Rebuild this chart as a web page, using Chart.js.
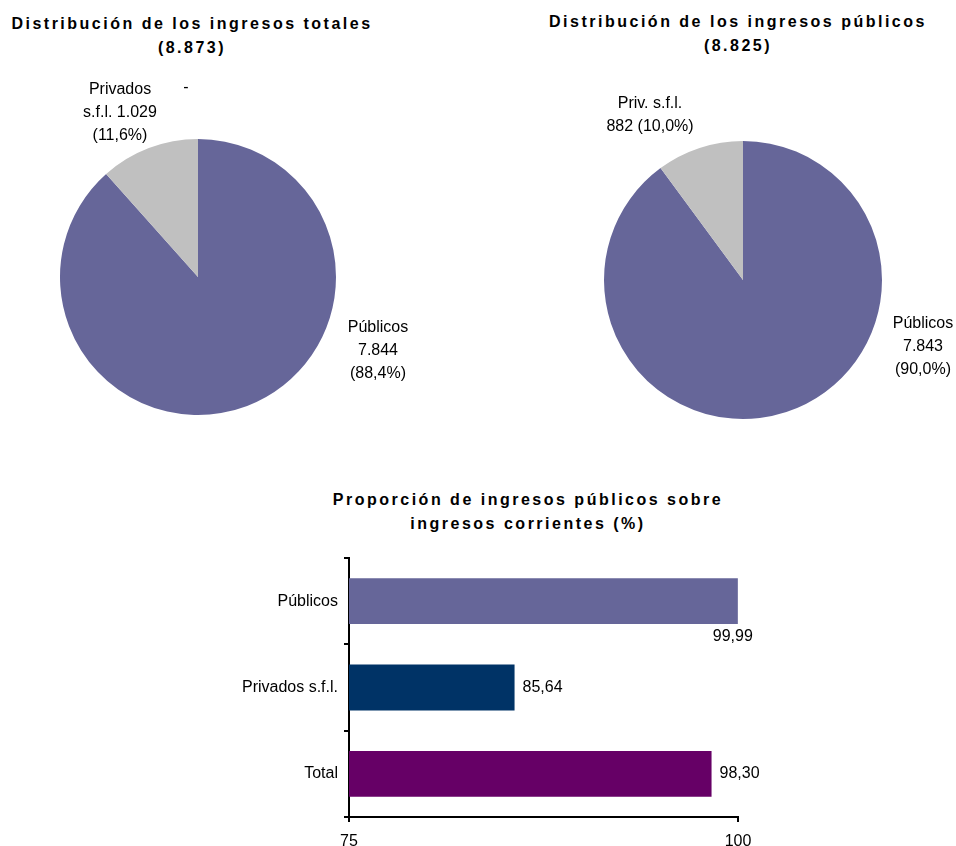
<!DOCTYPE html>
<html>
<head>
<meta charset="utf-8">
<script src="https://cdn.jsdelivr.net/npm/chart.js@4.4.1/dist/chart.umd.min.js"></script>
<style>
  body { margin: 0; background: #fff; font-family: "Liberation Sans", Arial, sans-serif; }
  #page { position: relative; width: 956px; height: 846px; overflow: hidden; }
  .title { position: absolute; text-align: center; font-weight: bold; font-size: 16px;
           letter-spacing: 2.5px; line-height: 24px; color: #000; white-space: nowrap; }
  .box { position: absolute; }
</style>
</head>
<body>
<div id="page">
  <div class="title" style="left:-8px; width:400px; top:12px;">Distribución de los ingresos totales<br>(8.873)</div>
  <div class="title" style="left:538px; width:400px; top:10px;">Distribución de los ingresos públicos<br>(8.825)</div>
  <div class="title" style="left:278px; width:500px; top:488px;">Proporción de ingresos públicos sobre<br>ingresos corrientes (%)</div>

  <div class="box" style="left:0; top:60px; width:470px; height:380px;"><canvas id="pieTotal"></canvas></div>
  <div class="box" style="left:480px; top:60px; width:476px; height:380px;"><canvas id="piePublic"></canvas></div>
  <div class="box" style="left:200px; top:540px; width:600px; height:306px;"><canvas id="barShare"></canvas></div>
</div>
<script>
// pie: distribución de los ingresos totales
const totalCategories = ['Públicos', 'Privados s.f.l.'];
const totalValues = [7844, 1029];
const totalLabelLines = [['Públicos', '7.844', '(88,4%)'], ['Privados', 's.f.l. 1.029', '(11,6%)']];

// pie: distribución de los ingresos públicos
const publicCategories = ['Públicos', 'Priv. s.f.l.'];
const publicValues = [7843, 882];
const publicLabelLines = [['Públicos', '7.843', '(90,0%)'], ['Priv. s.f.l.', '882 (10,0%)']];

// bars: proporción de ingresos públicos sobre ingresos corrientes
const barCategories = ['Públicos', 'Privados s.f.l.', 'Total'];
const barValues = [99.99, 85.64, 98.30];
const barValueLabels = ['99,99', '85,64', '98,30'];
const axisTicks = [75, 100];

const pieColors = ['#666699', '#C0C0C0'];
const barColors = ['#666699', '#003366', '#660066'];
const FONT = '"Liberation Sans", Arial, sans-serif';

Chart.defaults.font.family = FONT;
Chart.defaults.color = '#000';
Chart.defaults.animation = false;

// text blocks placed relative to the pie centre
const pieLabelPlugin = {
  id: 'pieLabels',
  afterDatasetsDraw(chart, args, opts) {
    const arc = chart.getDatasetMeta(0).data[0];
    if (!arc) return;
    const ctx = chart.ctx;
    ctx.save();
    ctx.font = '16px ' + FONT;
    ctx.fillStyle = '#000';
    ctx.textAlign = 'center';
    ctx.textBaseline = 'middle';
    opts.blocks.forEach((block) => {
      block.lines.forEach((line, i) => {
        ctx.fillText(line, arc.x + block.dx, arc.y + block.dy + i * 23);
      });
    });
    ctx.restore();
  }
};

function makePie(id, categories, values, padding, blocks) {
  return new Chart(document.getElementById(id), {
    type: 'pie',
    data: {
      labels: categories,
      datasets: [{ data: values, backgroundColor: pieColors, borderWidth: 0 }]
    },
    options: {
      responsive: true,
      maintainAspectRatio: false,
      layout: { padding },
      plugins: {
        legend: { display: false },
        tooltip: { enabled: false },
        pieLabels: { blocks }
      }
    },
    plugins: [pieLabelPlugin]
  });
}

makePie('pieTotal', totalCategories, totalValues,
  { left: 60, top: 79, right: 134, bottom: 25 },
  [
    { lines: totalLabelLines[0], dx: 180, dy: 51 },
    { lines: totalLabelLines[1], dx: -78, dy: -187 },
    { lines: ['-'], dx: -12, dy: -189 }
  ]);

makePie('piePublic', publicCategories, publicValues,
  { left: 124, top: 81, right: 74, bottom: 21 },
  [
    { lines: publicLabelLines[0], dx: 180, dy: 44 },
    { lines: publicLabelLines[1], dx: -93, dy: -176 }
  ]);

const barValuePlugin = {
  id: 'barValues',
  afterDatasetsDraw(chart) {
    const ctx = chart.ctx;
    ctx.save();
    ctx.font = '16px ' + FONT;
    ctx.fillStyle = '#000';
    chart.getDatasetMeta(0).data.forEach((bar, i) => {
      if (i === 0) {
        ctx.textAlign = 'center';
        ctx.textBaseline = 'middle';
        ctx.fillText(barValueLabels[i], bar.x - 5, bar.y + bar.height / 2 + 13);
      } else {
        ctx.textAlign = 'left';
        ctx.textBaseline = 'middle';
        ctx.fillText(barValueLabels[i], bar.x + 8, bar.y);
      }
    });
    ctx.restore();
  }
};

new Chart(document.getElementById('barShare'), {
  type: 'bar',
  data: {
    labels: barCategories,
    datasets: [{
      data: barValues,
      backgroundColor: barColors,
      borderWidth: 0,
      barPercentage: 0.53,
      categoryPercentage: 1
    }]
  },
  options: {
    indexAxis: 'y',
    responsive: true,
    maintainAspectRatio: false,
    layout: { padding: { left: 0, top: 18, right: 62, bottom: 0 } },
    plugins: { legend: { display: false }, tooltip: { enabled: false } },
    scales: {
      x: {
        min: 75,
        max: 100,
        afterBuildTicks(scale) { scale.ticks = axisTicks.map((v) => ({ value: v })); },
        afterFit(scale) { scale.height = 29; },
        grid: { drawOnChartArea: false, drawTicks: true, tickLength: 5, color: '#000', lineWidth: 2 },
        border: { display: true, color: '#000', width: 2 },
        ticks: { font: { size: 16 }, color: '#000', padding: 10, maxRotation: 0 }
      },
      y: {
        afterFit(scale) { scale.width = 149; },
        grid: { drawOnChartArea: false, drawTicks: true, tickLength: 5, color: '#000', lineWidth: 2, offset: true },
        border: { display: true, color: '#000', width: 2 },
        ticks: { font: { size: 16 }, color: '#000', padding: 6 }
      }
    }
  },
  plugins: [barValuePlugin]
});
</script>
</body>
</html>
